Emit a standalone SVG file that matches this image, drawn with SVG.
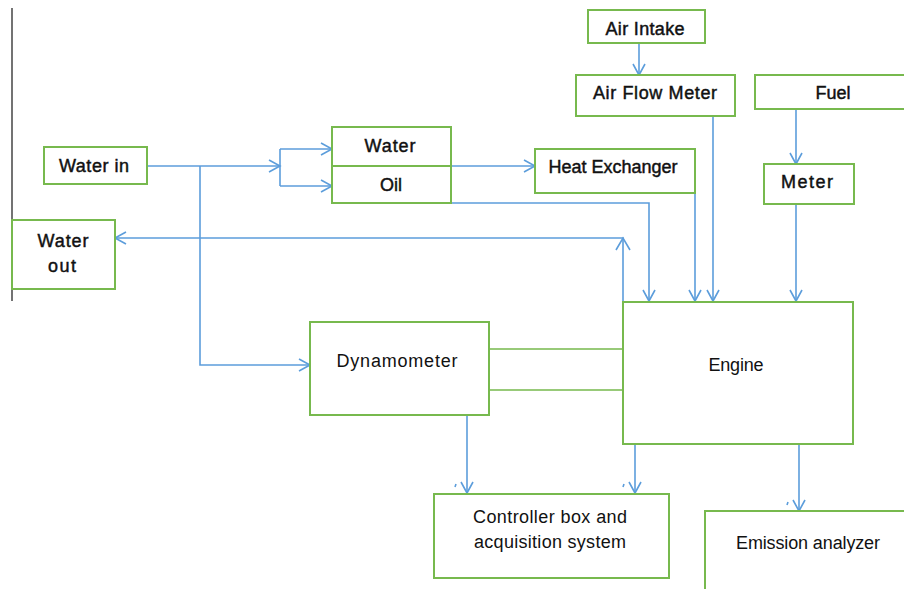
<svg xmlns="http://www.w3.org/2000/svg" width="904" height="589" viewBox="0 0 904 589">
<style>
.box{fill:#fff;stroke:#77b94e;stroke-width:2}
.lnk{fill:none;stroke:#5c9ddb;stroke-width:1.6}
.gl{fill:none;stroke:#77b94e;stroke-width:1.6}
text{font-family:"Liberation Sans",Arial,sans-serif;font-size:18px;fill:#111}
.c{text-anchor:middle}
.s{stroke:#111;stroke-width:0.45}
</style>
<defs>
<marker id="a" markerUnits="userSpaceOnUse" markerWidth="14" markerHeight="14" refX="12" refY="7" orient="auto">
<path d="M1,1 L12,7 L1,13" fill="none" stroke="#5c9ddb" stroke-width="1.6"/>
</marker>
</defs>
<rect width="904" height="589" fill="#fff"/>
<line x1="12" y1="8" x2="12" y2="301" stroke="#444" stroke-width="1.5"/>
<g id="connectors">
<path class="lnk" d="M147,166 H280" marker-end="url(#a)"/>
<path class="lnk" d="M280,149 V186"/>
<path class="lnk" d="M280,149 H332" marker-end="url(#a)"/>
<path class="lnk" d="M280,186 H332" marker-end="url(#a)"/>
<path class="lnk" d="M200,166 V365 H310" marker-end="url(#a)"/>
<path class="lnk" d="M623,301 V238 H115" marker-end="url(#a)"/>
<path class="lnk" d="M616,250 L623,238 L630,250"/>
<path class="lnk" d="M451,166 H535" marker-end="url(#a)"/>
<path class="lnk" d="M451,203 H649 V301" marker-end="url(#a)"/>
<path class="lnk" d="M695,193 V301" marker-end="url(#a)"/>
<path class="lnk" d="M713,116 V301" marker-end="url(#a)"/>
<path class="lnk" d="M639,43 V75" marker-end="url(#a)"/>
<path class="lnk" d="M796,109 V164" marker-end="url(#a)"/>
<path class="lnk" d="M796,204 V301" marker-end="url(#a)"/>
<path class="lnk" d="M467,415 V493" marker-end="url(#a)"/>
<path class="lnk" d="M635,444 V493" marker-end="url(#a)"/>
<path class="lnk" d="M799,444 V511" marker-end="url(#a)"/>
<path class="lnk" d="M455,487 L456,484 M623,487 L624,484 M787,505 L788,502"/>
<path class="gl" d="M489,349 H623 M489,390 H623"/>
</g>
<g id="water-in"><rect class="box" x="44" y="147" width="103" height="37"/><text class="c s" x="94" y="172" textLength="70">Water in</text></g>
<g id="water-out"><rect class="box" x="12" y="220" width="103" height="69"/><text class="c s" x="63" y="247" textLength="51">Water</text><text class="c s" x="62" y="272" textLength="28">out</text></g>
<g id="water-oil"><rect class="box" x="332" y="127" width="119" height="76"/><line x1="332" y1="166" x2="451" y2="166" stroke="#77b94e" stroke-width="2"/><text class="c s" x="390" y="152" textLength="51">Water</text><text class="c s" x="391" y="191" textLength="22">Oil</text></g>
<g id="air-intake"><rect class="box" x="588" y="10" width="117" height="33"/><text class="c s" x="645" y="35" textLength="79">Air Intake</text></g>
<g id="air-flow-meter"><rect class="box" x="576" y="75" width="159" height="41"/><text class="c s" x="655" y="99" textLength="124">Air Flow Meter</text></g>
<g id="fuel"><rect class="box" x="755" y="75" width="160" height="34"/><text class="c s" x="833" y="99" textLength="35">Fuel</text></g>
<g id="heat-exchanger"><rect class="box" x="535" y="149" width="160" height="44"/><text class="c s" x="613" y="173" textLength="129">Heat Exchanger</text></g>
<g id="meter"><rect class="box" x="764" y="164" width="90" height="40"/><text class="c s" x="807" y="188" textLength="52">Meter</text></g>
<g id="dynamometer"><rect class="box" x="310" y="322" width="179" height="93"/><text class="c" x="397" y="367" textLength="121">Dynamometer</text></g>
<g id="engine"><rect class="box" x="623" y="302" width="230" height="142"/><text class="c" x="736" y="371" textLength="55">Engine</text></g>
<g id="controller"><rect class="box" x="434" y="494" width="235" height="84"/><text x="473" y="523" textLength="154">Controller box and</text><text x="474" y="548" textLength="152">acquisition system</text></g>
<g id="emission"><rect class="box" x="705" y="511" width="220" height="100"/><text class="c" x="808" y="549" textLength="144">Emission analyzer</text></g>
</svg>
